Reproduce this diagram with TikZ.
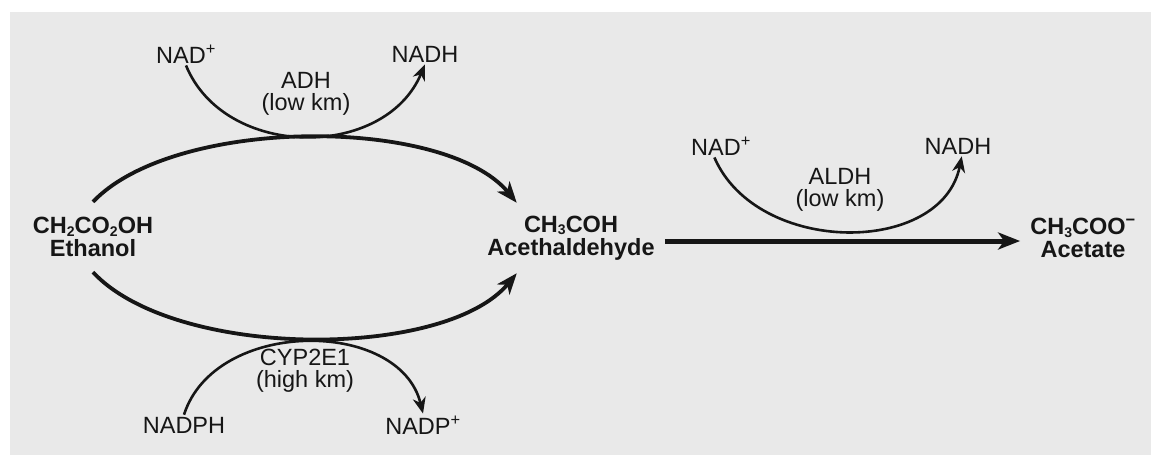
\documentclass[tikz,border=0pt]{standalone}
\usepackage{fontspec}
\setmainfont{Liberation Sans}
\usetikzlibrary{arrows.meta,calc}
\definecolor{panel}{RGB}{233,233,233}
\definecolor{ink}{RGB}{22,22,22}
% small lowered digit for chemical formulas
\newcommand\chemsub[1]{\raisebox{-2.5pt}{\fontsize{14}{14}\selectfont #1}}
\begin{document}
\begin{tikzpicture}[x=1pt,y=-1pt,
  lbl/.style={font=\fontsize{23.5}{22}\selectfont, text=ink, inner sep=2pt, align=center},
  chem/.style={font=\fontsize{23.5}{23}\selectfont\bfseries, text=ink, inner xsep=10pt,
               inner ysep=0pt, minimum height=70pt, align=center},
  bigarc/.style={draw=ink, line width=3.8pt, -{Stealth[length=21pt,width=16pt,inset=6pt]}},
  smallarc/.style={draw=ink, line width=2.6pt, -{Stealth[length=16pt,width=13pt,inset=5pt]}},
  mainarrow/.style={draw=ink, line width=5pt, -{Stealth[length=22pt,width=17pt,inset=6pt]}}]
\useasboundingbox (0,0) rectangle (1151,459);
\fill[panel] (10,12) rectangle (1151,455);

% substrates and products
\node[chem] (eth) at (93,237) {CH\chemsub{2}CO\chemsub{2}OH\\Ethanol};
\node[chem] (ald) at (571,238) {CH\chemsub{3}COH\\Acethaldehyde};
\node[chem] (ace) at (1083,238) {CH\chemsub{3}COO\textsuperscript{\char"2212}\\Acetate};

% cofactors of the ADH step
\node[lbl] (nadA)  at (186,54) {NAD\textsuperscript{+}};
\node[lbl] (nadhA) at (425,54) {NADH};
\node[lbl] (adh)   at (306,94) {ADH\\(low km)};

% cofactors of the CYP2E1 step
\node[lbl] (nadph) at (184,425) {NADPH};
\node[lbl] (nadp)  at (423,425) {NADP\textsuperscript{+}};
\node[lbl] (cyp)   at (305,371) {CYP2E1\\(high km)};

% cofactors of the ALDH step
\node[lbl] (nadB)  at (721,146) {NAD\textsuperscript{+}};
\node[lbl] (nadhB) at (958,146) {NADH};
\node[lbl] (aldh)  at (840,190) {ALDH\\(low km)};

% ethanol to acetaldehyde, two routes
\draw[bigarc] (eth.north) .. controls (175,116) and (445,116) .. (ald.147);
\draw[bigarc] (eth.south) .. controls (175,360) and (445,360) .. (ald.213);

% coupled cofactor turnover
\draw[smallarc] (nadA.south) .. controls (225,160) and (385,160) .. (nadhA.south);
\draw[smallarc] (nadph.north) .. controls (215,318) and (400,318) .. (nadp.north);
\draw[smallarc] (nadB.-120) .. controls (757,256) and (942,256) .. (nadhB.-70);

% acetaldehyde to acetate
\draw[mainarrow] ([yshift=-3pt]ald.east) -- ([yshift=-3pt]ace.west);
\end{tikzpicture}
\end{document}
